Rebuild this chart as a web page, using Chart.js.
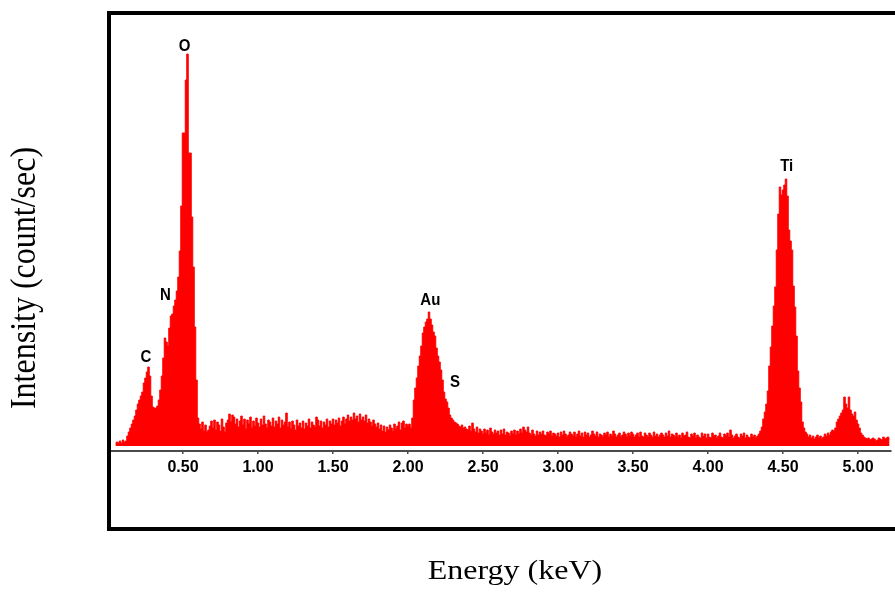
<!DOCTYPE html>
<html>
<head>
<meta charset="utf-8">
<script src="https://cdn.jsdelivr.net/npm/chart.js@4.4.1/dist/chart.umd.min.js"></script>
<style>
  html, body { margin: 0; padding: 0; background: #ffffff; }
  #wrap { width: 895px; height: 595px; position: relative; }
</style>
</head>
<body>
<div id="wrap"><canvas id="spectrum" width="895" height="595"></canvas></div>
<script>
// EDS spectrum, counts per 10 eV channel; first channel sits at 0.05 keV
const channelStart = 0.05;   // keV
const channelWidth = 0.01;   // keV

const counts = [
  /* 0.05 */ 2, 4, 3, 5, 3,
  /* 0.10 */ 6, 4, 5, 10, 14, 18, 22, 26, 30, 36,
  /* 0.20 */ 42, 46, 50, 54, 63, 68, 74, 79, 70, 50,
  /* 0.30 */ 39, 38, 38, 40, 46, 56, 70, 88, 108, 104,
  /* 0.40 */ 100, 118, 130, 132, 140, 146, 155, 169, 195, 240,
  /* 0.50 */ 313, 313, 366, 392, 293, 293, 229, 179, 119, 66,
  /* 0.60 */ 28, 22, 17, 24, 15, 21, 14, 16, 20, 25,
  /* 0.70 */ 18, 26, 16, 24, 21, 15, 27, 19, 14, 23,
  /* 0.80 */ 26, 32, 24, 31, 29, 22, 27, 19, 25, 30,
  /* 0.90 */ 21, 27, 17, 26, 22, 29, 18, 25, 20, 28,
  /* 1.00 */ 23, 19, 27, 21, 30, 22, 18, 26, 24, 20,
  /* 1.10 */ 28, 19, 25, 22, 29, 18, 26, 21, 24, 33,
  /* 1.20 */ 19, 24, 17, 25, 21, 16, 26, 20, 23, 18,
  /* 1.30 */ 25, 17, 23, 20, 27, 18, 24, 21, 19, 29,
  /* 1.40 */ 26, 20, 25, 18, 24, 21, 27, 19, 25, 22,
  /* 1.50 */ 27, 21, 26, 23, 28, 20, 25, 29, 22, 27,
  /* 1.60 */ 31, 25, 29, 26, 33, 27, 30, 24, 32, 26,
  /* 1.70 */ 29, 25, 31, 23, 27, 24, 20, 26, 22, 19,
  /* 1.80 */ 23, 17, 21, 15, 20, 14, 19, 16, 21, 18,
  /* 1.90 */ 15, 22, 17, 20, 24, 16, 23, 25, 18, 22,
  /* 2.00 */ 20, 22, 18, 28, 46, 58, 68, 80, 90, 100,
  /* 2.10 */ 113, 119, 124, 127, 134, 127, 121, 114, 110, 98,
  /* 2.20 */ 90, 84, 76, 66, 54, 47, 44, 38, 31, 28,
  /* 2.30 */ 26, 24, 23, 22, 20, 19, 21, 18, 19, 17,
  /* 2.40 */ 16, 20, 15, 23, 17, 14, 19, 13, 17, 15,
  /* 2.50 */ 12, 17, 13, 16, 11, 18, 14, 12, 16, 13,
  /* 2.60 */ 15, 11, 16, 12, 17, 11, 14, 13, 10, 15,
  /* 2.70 */ 12, 16, 11, 15, 12, 17, 13, 19, 16, 14,
  /* 2.80 */ 19, 13, 11, 16, 12, 10, 15, 11, 14, 12,
  /* 2.90 */ 15, 11, 10, 14, 12, 15, 10, 13, 12, 10,
  /* 3.00 */ 13, 9, 14, 11, 15, 12, 9, 11, 14, 12,
  /* 3.10 */ 10, 14, 9, 12, 15, 10, 13, 9, 14, 11,
  /* 3.20 */ 13, 9, 11, 15, 12, 10, 14, 9, 12, 11,
  /* 3.30 */ 9, 13, 11, 14, 9, 12, 10, 15, 12, 9,
  /* 3.40 */ 11, 13, 9, 11, 14, 12, 9, 13, 10, 14,
  /* 3.50 */ 12, 9, 11, 13, 9, 14, 10, 9, 13, 11,
  /* 3.60 */ 9, 13, 11, 9, 14, 10, 12, 9, 11, 13,
  /* 3.70 */ 11, 9, 13, 10, 15, 9, 12, 11, 9, 13,
  /* 3.80 */ 9, 11, 8, 13, 10, 11, 14, 9, 8, 12,
  /* 3.90 */ 10, 13, 8, 11, 9, 8, 13, 10, 12, 8,
  /* 4.00 */ 12, 9, 8, 13, 10, 11, 8, 10, 13, 9,
  /* 4.10 */ 8, 12, 10, 13, 9, 16, 11, 8, 10, 12,
  /* 4.20 */ 9, 8, 12, 10, 13, 8, 11, 9, 8, 12,
  /* 4.30 */ 9, 11, 8, 10, 12, 15, 19, 27, 34, 42,
  /* 4.40 */ 55, 80, 99, 120, 140, 159, 196, 232, 259, 251,
  /* 4.50 */ 256, 261, 267, 250, 216, 205, 196, 160, 139, 110,
  /* 4.60 */ 75, 58, 44, 24, 18, 14, 12, 9, 11, 8,
  /* 4.70 */ 10, 7, 9, 11, 8, 10, 7, 9, 12, 10,
  /* 4.80 */ 13, 11, 14, 16, 15, 18, 24, 27, 30, 33,
  /* 4.90 */ 36, 49, 42, 38, 49, 36, 32, 30, 34, 26,
  /* 5.00 */ 22, 18, 13, 11, 9, 8, 7, 8, 6, 7,
  /* 5.10 */ 8, 7, 5, 6, 8, 7, 6, 9, 7, 8,
  /* 5.20 */ 9, 7
];

const tickEnergies = [0.5, 1.0, 1.5, 2.0, 2.5, 3.0, 3.5, 4.0, 4.5, 5.0];

// element markers, anchored in energy / count space
const peakNames       = ['C', 'N', 'O', 'Au', 'S', 'Ti'];
const peakLabelEnergy = [0.253, 0.382, 0.51, 2.149, 2.313, 4.525];
const peakLabelCount  = [89, 151, 400, 146, 64, 280];

const xTitle = 'Energy (keV)';
const yTitle = 'Intensity (count/sec)';

const points = counts.map((c, i) => ({ x: channelStart + i * channelWidth, y: c }));

const decorations = {
  id: 'decorations',
  afterDraw(chart) {
    const { ctx, chartArea: a, scales } = chart;
    ctx.save();

    // heavy frame, open on the right
    ctx.fillStyle = '#000000';
    ctx.fillRect(a.left - 1, a.top - 4, chart.width, 4);
    ctx.fillRect(a.left - 1, a.top - 4, 4, a.bottom + 80 - (a.top - 4));
    ctx.fillRect(a.left - 1, a.bottom + 76, chart.width, 4);

    // element labels
    ctx.fillStyle = '#000000';
    ctx.font = 'bold 15px "Liberation Sans", Arial, sans-serif';
    ctx.textAlign = 'center';
    ctx.textBaseline = 'middle';
    peakNames.forEach((name, i) => {
      const px = scales.x.getPixelForValue(peakLabelEnergy[i]);
      const py = scales.y.getPixelForValue(peakLabelCount[i]);
      ctx.save();
      ctx.translate(px, py);
      ctx.scale(1, 1.12);
      ctx.fillText(name, 0, 0);
      ctx.restore();
    });

    // axis titles
    ctx.font = '32px "Liberation Serif", "Times New Roman", serif';
    ctx.save();
    ctx.translate(515, 572);
    ctx.scale(1, 0.82);
    ctx.fillText(xTitle, 0, 0);
    ctx.restore();

    ctx.save();
    ctx.translate(26, 278);
    ctx.rotate(-Math.PI / 2);
    ctx.scale(1, 1.1);
    ctx.fillText(yTitle, 0, 0);
    ctx.restore();

    ctx.restore();
  }
};

new Chart(document.getElementById('spectrum'), {
  type: 'line',
  data: {
    datasets: [{
      data: points,
      stepped: 'middle',
      fill: 'origin',
      backgroundColor: '#ff0000',
      borderColor: '#ff0000',
      borderWidth: 1,
      pointRadius: 0,
      tension: 0
    }]
  },
  options: {
    responsive: false,
    animation: false,
    events: [],
    layout: { padding: { left: 108, right: 4, top: 15, bottom: 114 } },
    plugins: { legend: { display: false }, tooltip: { enabled: false } },
    scales: {
      x: {
        type: 'linear',
        min: 0,
        max: 5.22,
        afterBuildTicks(scale) {
          scale.ticks = tickEnergies.map(v => ({ value: v }));
        },
        afterFit(scale) { scale.height = 30; },
        border: { display: true, color: '#4a4a4a', width: 2 },
        grid: { display: true, drawOnChartArea: false, drawTicks: true, tickLength: 3, color: '#4a4a4a', lineWidth: 1.5 },
        ticks: {
          autoSkip: false,
          maxRotation: 0,
          padding: 4,
          color: '#000000',
          font: { family: '"Liberation Sans", Arial, sans-serif', size: 16, weight: 'bold' },
          callback: v => Number(v).toFixed(2)
        }
      },
      y: {
        display: false,
        min: -5,
        max: 431
      }
    }
  },
  plugins: [decorations]
});
</script>
</body>
</html>
